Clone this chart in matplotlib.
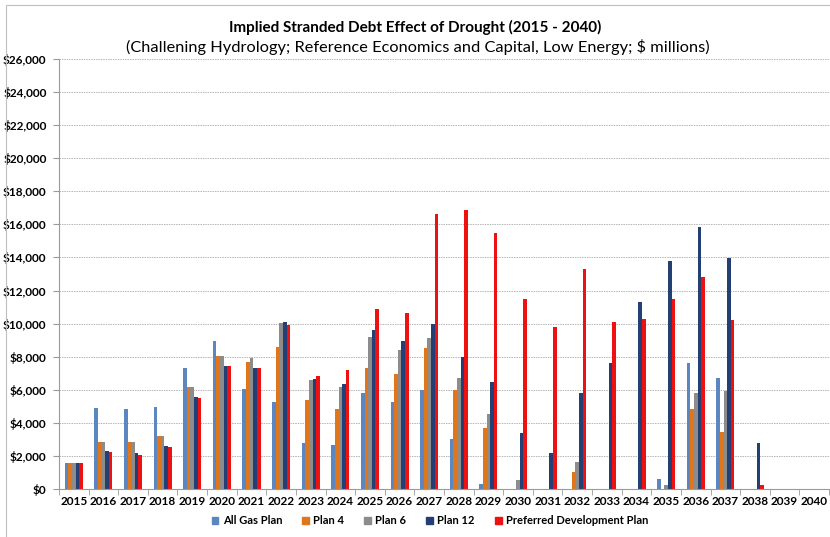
import matplotlib
matplotlib.use("Agg")
import matplotlib.pyplot as plt
import numpy as np
from matplotlib.patches import Rectangle

years = [str(y) for y in range(2015, 2041)]
all_gas = [1550, 4920, 4840, 4940, 7340, 8950, 6050, 5280, 2760, 2680, 5780, 5280, 5990,
           3000, 300, 0, 0, 0, 0, 0, 600, 7600, 6690, 0, 0, 0]
plan4 = [1550, 2860, 2820, 3230, 6170, 8060, 7660, 8600, 5380, 4840, 7320, 6930, 8520,
         5990, 3670, 0, 0, 1000, 0, 0, 0, 4840, 3430, 0, 0, 0]
plan6 = [1550, 2860, 2820, 3230, 6170, 8060, 7920, 10060, 6570, 6150, 9210, 8380, 9110,
         6730, 4510, 540, 0, 1650, 0, 0, 240, 5830, 5925, 0, 0, 0]
plan12 = [1550, 2280, 2160, 2600, 5540, 7460, 7300, 10120, 6630, 6370, 9610, 8950, 9950,
          7980, 6490, 3370, 2160, 5830, 7600, 11290, 13800, 15820, 13970, 2760, 0, 0]
preferred = [1550, 2220, 2080, 2520, 5480, 7460, 7300, 9920, 6810, 7190, 10900, 10640, 16630,
             16890, 15500, 11490, 9810, 13300, 10100, 10280, 11500, 12800, 10220, 240, 0, 0]
series_names = ["All Gas Plan", "Plan 4", "Plan 6", "Plan 12", "Preferred Development Plan"]
colors = ["#5B86C0", "#E0761C", "#8C8C8C", "#243F73", "#EE1111"]

plt.rcParams['font.family'] = ['Lato', 'DejaVu Sans']

fig = plt.figure(figsize=(8.3, 5.37), dpi=100)
W, H = 830, 537
ax = fig.add_axes([59 / W, (H - 489) / H, (829 - 59) / W, (489 - 59) / H])

x = np.arange(len(years))
bw = 0.122
data = [all_gas, plan4, plan6, plan12, preferred]
for i, (vals, name, c) in enumerate(zip(data, series_names, colors)):
    ax.bar(x + (i - 2) * bw, vals, width=bw, color=c, label=name, linewidth=0)

ax.set_xlim(-0.5, len(years) - 0.5)
ax.set_ylim(0, 26000)
ax.set_yticks(np.arange(0, 26001, 2000))
ax.set_yticklabels(["${:,}".format(v) for v in range(0, 26001, 2000)],
                   fontsize=8.5, fontweight='bold')
ax.set_xticks(x)
ax.set_xticklabels(years, fontsize=8.5, fontweight='bold')
ax.set_xticks(np.arange(-0.5, len(years), 1), minor=True)
ax.tick_params(axis='x', which='major', length=0, pad=5)
ax.tick_params(axis='x', which='minor', length=4, color='#9A9A9A')
ax.tick_params(axis='y', length=4, color='#9A9A9A', pad=5)
ax.yaxis.grid(True, linestyle=(0, (1.5, 1)), color='#B5B5B5', linewidth=0.7)
ax.set_axisbelow(True)
for s in ['top', 'right']:
    ax.spines[s].set_visible(False)
ax.spines['left'].set_color('#9A9A9A')
ax.spines['bottom'].set_color('#9A9A9A')

fig.text(415 / W, 1 - 27 / H, "Implied Stranded Debt Effect of Drought (2015 - 2040)",
         ha='center', va='center', fontsize=11, fontweight='bold')
fig.text(418 / W, 1 - 47 / H,
         "(Challening Hydrology; Reference Economics and Capital, Low Energy; $ millions)",
         ha='center', va='center', fontsize=11.8)

handles = [Rectangle((0, 0), 1, 1, color=c) for c in colors]
fig.legend(handles, series_names, loc='center', bbox_to_anchor=(430 / W, 1 - 521 / H),
           ncol=5, frameon=False, handlelength=0.6, handleheight=0.6,
           columnspacing=1.8, handletextpad=0.4, prop={'weight': 'bold', 'size': 8})

fig.patches.append(Rectangle((6 / W, -0.01), 1.0, 1 - 5 / H + 0.01, transform=fig.transFigure,
                             fill=False, edgecolor='#BFBFBF', linewidth=0.8))

fig.savefig("out.png", dpi=100)
